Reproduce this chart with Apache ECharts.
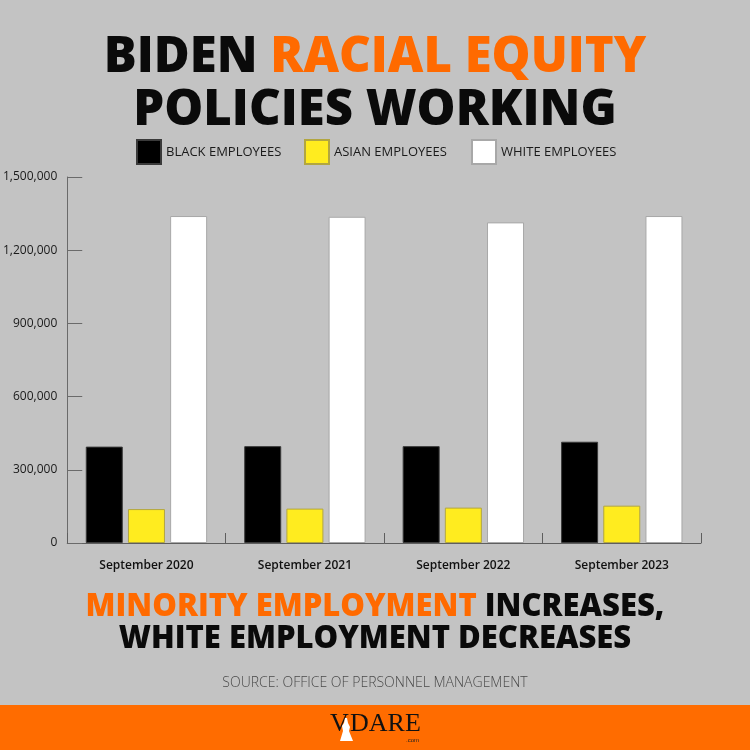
<!DOCTYPE html>
<html>
<head>
<meta charset="utf-8">
<script src="https://cdn.jsdelivr.net/npm/echarts@6/dist/echarts.min.js"></script>
<style>
html,body{margin:0;padding:0;background:#c3c3c3;}
#chart{width:750px;height:750px;}
</style>
</head>
<body>
<div id="chart"></div>
<script>
const categories = ['September 2020', 'September 2021', 'September 2022', 'September 2023'];
const blackEmployees = [395000, 397000, 397000, 415000];
const asianEmployees = [139000, 141000, 145000, 153000];
const whiteEmployees = [1340000, 1337000, 1314000, 1340000];
const seriesNames = ['BLACK EMPLOYEES', 'ASIAN EMPLOYEES', 'WHITE EMPLOYEES'];
const yTicks = { min: 0, max: 1500000, interval: 300000 };

const chart = echarts.init(document.getElementById('chart'), null, { renderer: 'canvas' });

const legendBase = {
  top: 139, padding: 0, itemWidth: 24, itemHeight: 24, itemGap: 10, icon: 'rect',
  selectedMode: false,
  textStyle: { fontFamily: 'Open Sans', fontSize: 13, color: '#1a1a1a' }
};

const option = {
  backgroundColor: '#c3c3c3',
  animation: false,
  title: {
    left: 'center', top: 27,
    text: '{a|BIDEN }{b|RACIAL EQUITY}\n{a|POLICIES WORKING}',
    textStyle: {
      rich: {
        a: { fontFamily: 'Open Sans', fontWeight: 800, fontSize: 49, color: '#0a0a0a', lineHeight: 53 },
        b: { fontFamily: 'Open Sans', fontWeight: 800, fontSize: 49, color: '#ff6a00', lineHeight: 53 }
      }
    }
  },
  legend: [
    Object.assign({}, legendBase, { left: 136, data: [seriesNames[0]] }),
    Object.assign({}, legendBase, { left: 304, data: [seriesNames[1]] }),
    Object.assign({}, legendBase, { left: 471, data: [seriesNames[2]] })
  ],
  grid: { left: 66, right: 49, top: 177, bottom: 207, containLabel: false },
  xAxis: {
    type: 'category',
    data: categories,
    axisLine: { show: true, lineStyle: { color: '#5e5e5e', width: 1 } },
    axisTick: { show: true, inside: true, length: 10, alignWithLabel: false, lineStyle: { color: '#5e5e5e' } },
    axisLabel: { margin: 17, fontFamily: 'Open Sans', fontWeight: 600, fontSize: 12, color: '#111' }
  },
  yAxis: {
    type: 'value',
    min: yTicks.min, max: yTicks.max, interval: yTicks.interval,
    splitLine: { show: false },
    axisLine: { show: true, lineStyle: { color: '#6a6a6a', width: 1 } },
    axisTick: { show: true, inside: true, length: 15, lineStyle: { color: '#6a6a6a' } },
    axisLabel: {
      margin: 10, fontFamily: 'Open Sans', fontSize: 12, color: '#1a1a1a',
      padding: [16, 0, 0, 0],
      formatter: v => v.toLocaleString('en-US')
    }
  },
  series: [
    { name: seriesNames[0], type: 'bar', data: blackEmployees, barWidth: 37, barGap: '14%',
      itemStyle: { color: '#000000', borderColor: '#3a3a3a', borderWidth: 1 } },
    { name: seriesNames[1], type: 'bar', data: asianEmployees, barWidth: 37, barGap: '14%',
      itemStyle: { color: '#ffec1f', borderColor: '#b2a640', borderWidth: 1 } },
    { name: seriesNames[2], type: 'bar', data: whiteEmployees, barWidth: 37, barGap: '14%',
      itemStyle: { color: '#ffffff', borderColor: '#a8a8a8', borderWidth: 1 } }
  ],
  graphic: [
    {
      type: 'text', left: 'center', top: 592,
      style: {
        text: '{b|MINORITY EMPLOYMENT }{a|INCREASES,}\n{a|WHITE EMPLOYMENT DECREASES}',
        align: 'center',
        rich: {
          a: { fontFamily: 'Open Sans', fontWeight: 800, fontSize: 31, fill: '#0a0a0a', lineHeight: 32, align: 'center' },
          b: { fontFamily: 'Open Sans', fontWeight: 800, fontSize: 31, fill: '#ff6a00', lineHeight: 32, align: 'center' }
        }
      }
    },
    {
      type: 'text', left: 'center', top: 676,
      style: { text: 'SOURCE: OFFICE OF PERSONNEL MANAGEMENT', fontFamily: 'Open Sans', fontWeight: 300, fontSize: 14, fill: '#4a4a4a' }
    },
    {
      type: 'rect', left: 0, top: 705, shape: { width: 750, height: 45 },
      style: { fill: '#ff6c00' }
    },
    {
      type: 'text', left: 330, top: 711,
      style: { text: 'V', fontFamily: 'Liberation Serif', fontSize: 26, fill: '#111' }
    },
    {
      type: 'text', left: 350, top: 711,
      style: { text: 'DARE', fontFamily: 'Liberation Serif', fontSize: 26, fill: '#111' }
    },
    {
      type: 'text', left: 406, top: 737,
      style: { text: '.com', fontFamily: 'Liberation Sans', fontSize: 6, fill: '#222' }
    },
    {
      type: 'polygon', z: 10,
      shape: { points: [[340, 741], [343, 731], [342, 726], [344, 723], [345, 718], [347, 718], [348, 723], [350, 727], [349, 731], [353, 741]] },
      style: { fill: '#ffffff' }
    }
  ]
};
chart.setOption(option);
</script>
</body>
</html>
